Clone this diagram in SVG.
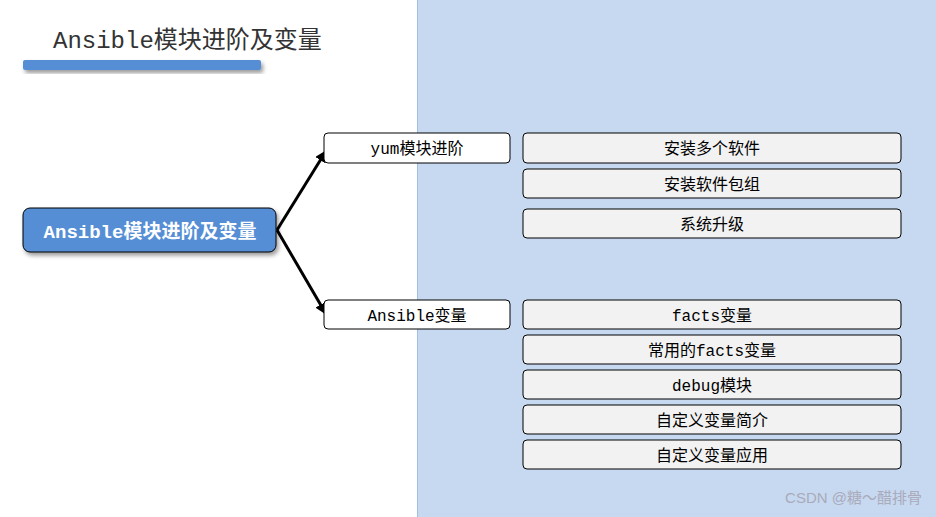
<svg xmlns="http://www.w3.org/2000/svg" width="936" height="517" viewBox="0 0 936 517">
<defs>
<style>
text{font-family:"Liberation Mono","Noto Sans CJK SC",monospace;text-anchor:middle}
.m{fill:#fff;stroke:#000;stroke-width:1}
.l{fill:#f2f2f2;stroke:#000;stroke-width:1}
.t{font-size:16px;fill:#000}
.c{stroke:#000;stroke-width:3;fill:none;marker-end:url(#a)}
</style>
<marker id="a" viewBox="0 0 10 10" refX="9" refY="5" markerWidth="4" markerHeight="4" orient="auto"><path d="M0,0L10,5L0,10z" fill="#000"/></marker>
<filter id="s" x="-10%" y="-20%" width="130%" height="160%"><feDropShadow dx="2" dy="3" stdDeviation="2" flood-opacity="0.4"/></filter>
</defs>
<rect width="936" height="517" fill="#fff"/>
<rect x="417" y="0" width="519" height="517" fill="#c6d9f0"/>
<line x1="417.5" y1="0" x2="417.5" y2="517" stroke="#a7bfdf"/>
<g id="title">
<text x="53" y="48" style="font-size:24px;text-anchor:start;fill:#333">Ansible模块进阶及变量</text>
<rect x="23" y="60" width="238" height="10" rx="2" fill="#558ed5" filter="url(#s)"/>
</g>
<g id="connectors">
<path class="c" d="M277,230L326,151"/>
<path class="c" d="M277,230L326,314"/>
</g>
<g id="root"><rect x="23" y="208" width="253" height="44" rx="7" fill="#558ed5" stroke="#000" filter="url(#s)"/><text x="150" y="238" style="font-size:19px;fill:#fff;font-weight:bold">Ansible模块进阶及变量</text></g>
<g id="yum"><rect class="m" x="324" y="133" width="186" height="30" rx="4"/><text class="t" x="417" y="154">yum模块进阶</text></g>
<g id="var"><rect class="m" x="324" y="300" width="186" height="29" rx="4"/><text class="t" x="417" y="321">Ansible变量</text></g>
<g id="n1"><rect class="l" x="523" y="133" width="378" height="30" rx="4"/><text class="t" x="712" y="154">安装多个软件</text></g>
<g id="n2"><rect class="l" x="523" y="169" width="378" height="29" rx="4"/><text class="t" x="712" y="190">安装软件包组</text></g>
<g id="n3"><rect class="l" x="523" y="209" width="378" height="29" rx="4"/><text class="t" x="712" y="230">系统升级</text></g>
<g id="n4"><rect class="l" x="523" y="300" width="378" height="29" rx="4"/><text class="t" x="712" y="321">facts变量</text></g>
<g id="n5"><rect class="l" x="523" y="335" width="378" height="29" rx="4"/><text class="t" x="712" y="356">常用的facts变量</text></g>
<g id="n6"><rect class="l" x="523" y="370" width="378" height="29" rx="4"/><text class="t" x="712" y="391">debug模块</text></g>
<g id="n7"><rect class="l" x="523" y="405" width="378" height="29" rx="4"/><text class="t" x="712" y="426">自定义变量简介</text></g>
<g id="n8"><rect class="l" x="523" y="440" width="378" height="29" rx="4"/><text class="t" x="712" y="461">自定义变量应用</text></g>
<text x="922" y="503" style="font-family:'Liberation Sans','Noto Sans CJK SC',sans-serif;font-size:15px;fill:#aab;text-anchor:end">CSDN @糖～醋排骨</text>
</svg>
